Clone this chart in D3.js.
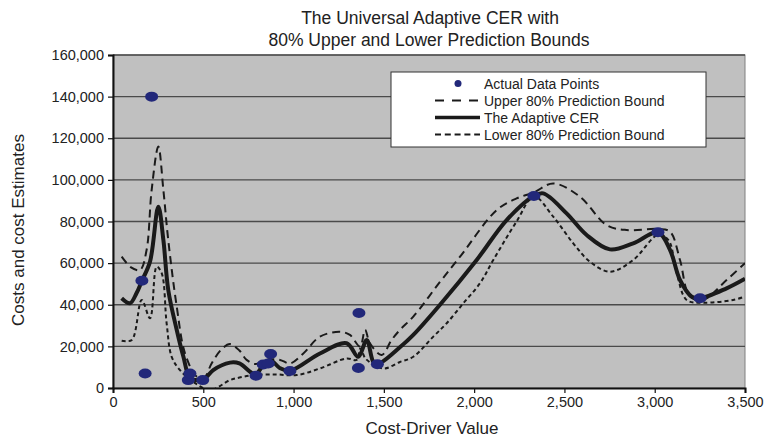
<!DOCTYPE html>
<html>
<head>
<meta charset="utf-8">
<script src="https://cdn.jsdelivr.net/npm/d3@7"></script>
<style>
  body { margin: 0; background: #fff; }
  svg { font-family: "Liberation Sans", Arial, sans-serif; }
</style>
</head>
<body>
<div id="chart"></div>
<script>
// data
var pointX = [160, 178, 214, 417, 426, 497, 792, 832, 860, 873, 980, 1359, 1362, 1464, 2331, 3018, 3251];
var pointY = [51500, 7000, 140000, 3800, 7000, 3800, 5900, 11300, 11800, 16300, 8200, 9600, 36000, 11400, 92250, 74800, 43100];

var cerX = [48, 94, 130, 160, 205, 251, 279, 306, 353, 390, 426, 482, 519, 555, 648, 700, 759, 790, 832, 870, 925, 980, 1146, 1294, 1358, 1405, 1441, 1464, 1592, 1663, 1811, 2014, 2180, 2331, 2383, 2512, 2623, 2752, 2881, 3018, 3085, 3140, 3205, 3251, 3398, 3500];
var cerY = [43100, 40700, 45500, 51500, 60700, 87100, 71100, 47100, 27900, 15000, 5000, 3800, 5400, 8600, 12200, 11800, 7800, 6500, 11000, 13500, 9500, 8300, 16600, 21500, 15000, 23100, 12600, 11400, 19800, 25500, 40000, 61500, 80700, 92250, 93500, 83900, 73500, 66600, 69500, 74800, 66300, 51900, 43900, 43100, 47900, 52500];

var upperX = [48, 100, 150, 186, 214, 251, 279, 306, 353, 399, 463, 505, 546, 600, 648, 700, 740, 790, 851, 925, 980, 1054, 1146, 1257, 1312, 1368, 1396, 1423, 1488, 1543, 1589, 1663, 1811, 1922, 2125, 2235, 2331, 2438, 2586, 2733, 2844, 3018, 3085, 3140, 3195, 3268, 3398, 3500];
var upperY = [63100, 58000, 56700, 66300, 95100, 116000, 95100, 71100, 39100, 16600, 5500, 5000, 11800, 18500, 21100, 18000, 13500, 11500, 13500, 13500, 11800, 16600, 24700, 27000, 25500, 19900, 27900, 21500, 15900, 23100, 27900, 34300, 51000, 63100, 85500, 91100, 94000, 98300, 91900, 78300, 75900, 76400, 75100, 61500, 43900, 42300, 51900, 60000];

var lowerX = [48, 104, 159, 205, 242, 270, 297, 325, 371, 445, 537, 648, 700, 777, 900, 1017, 1146, 1294, 1349, 1370, 1400, 1497, 1589, 1663, 1774, 1848, 1940, 2032, 2106, 2235, 2331, 2438, 2549, 2641, 2752, 2881, 3018, 3076, 3122, 3177, 3268, 3434, 3500];
var lowerY = [22700, 23100, 42300, 33500, 58300, 55100, 31100, 15000, 8600, 3000, -1000, 3800, 5000, 6200, 6500, 6200, 9400, 14200, 13500, 19000, 14000, 9400, 12500, 15000, 24700, 31100, 40700, 50300, 61500, 80000, 92000, 82300, 69500, 60700, 55900, 61500, 73500, 71100, 55100, 42300, 41000, 42300, 43900];

var xTicks = [0, 500, 1000, 1500, 2000, 2500, 3000, 3500];
var yTicks = [0, 20000, 40000, 60000, 80000, 100000, 120000, 140000, 160000];

var legendLabels = ["Actual Data Points", "Upper 80% Prediction Bound", "The Adaptive CER", "Lower 80% Prediction Bound"];

var W = 768, H = 440;
var plotL = 113, plotR = 745, plotT = 55, plotB = 388;

var svg = d3.select("#chart").append("svg")
  .attr("width", W).attr("height", H);

var x = d3.scaleLinear().domain([0, 3500]).range([plotL, plotR]);
var y = d3.scaleLinear().domain([0, 160000]).range([plotB, plotT]);

// plot background
svg.append("rect")
  .attr("x", plotL).attr("y", plotT)
  .attr("width", plotR - plotL).attr("height", plotB - plotT)
  .attr("fill", "#c0c0c0")
  .attr("stroke", "#808080").attr("stroke-width", 1);

// gridlines
svg.append("g").selectAll("line")
  .data(yTicks.slice(1))
  .enter().append("line")
  .attr("x1", plotL).attr("x2", plotR)
  .attr("y1", function(d) { return y(d); })
  .attr("y2", function(d) { return y(d); })
  .attr("stroke", "#4a4a4a").attr("stroke-width", 1.3);

svg.append("clipPath").attr("id", "clip")
  .append("rect")
  .attr("x", plotL).attr("y", plotT)
  .attr("width", plotR - plotL).attr("height", plotB - plotT);

var plot = svg.append("g").attr("clip-path", "url(#clip)");

function makeLine(xs, ys) {
  var pts = xs.map(function(v, i) { return [v, ys[i]]; });
  return d3.line()
    .x(function(d) { return x(d[0]); })
    .y(function(d) { return y(d[1]); })
    .curve(d3.curveCatmullRom.alpha(0.5))(pts);
}

plot.append("path")
  .attr("d", makeLine(upperX, upperY))
  .attr("fill", "none").attr("stroke", "#1a1a1a")
  .attr("stroke-width", 2).attr("stroke-dasharray", "8,5");

plot.append("path")
  .attr("d", makeLine(lowerX, lowerY))
  .attr("fill", "none").attr("stroke", "#1a1a1a")
  .attr("stroke-width", 2).attr("stroke-dasharray", "4,3");

plot.append("path")
  .attr("d", makeLine(cerX, cerY))
  .attr("fill", "none").attr("stroke", "#1a1a1a")
  .attr("stroke-width", 4).attr("stroke-linejoin", "round");

plot.selectAll("ellipse")
  .data(pointX)
  .enter().append("ellipse")
  .attr("cx", function(d) { return x(d); })
  .attr("cy", function(d, i) { return y(pointY[i]); })
  .attr("rx", 6.5).attr("ry", 5)
  .attr("fill", "#22287a");

// axes
var yAxis = svg.append("g")
  .attr("transform", "translate(" + plotL + ",0)")
  .call(d3.axisLeft(y).tickValues(yTicks).tickSize(5).tickPadding(4).tickFormat(d3.format(",")));
var xAxis = svg.append("g")
  .attr("transform", "translate(0," + plotB + ")")
  .call(d3.axisBottom(x).tickValues(xTicks).tickSize(5).tickPadding(4).tickFormat(d3.format(",")));

[yAxis, xAxis].forEach(function(a) {
  a.select(".domain").attr("stroke", "#111").attr("stroke-width", 2);
  a.selectAll(".tick line").attr("stroke", "#111").attr("stroke-width", 1.2);
  a.selectAll("text").attr("font-size", 14.5).attr("fill", "#222")
    .attr("font-family", "Liberation Sans, Arial, sans-serif");
});

// titles
svg.append("text")
  .attr("x", 430).attr("y", 24)
  .attr("text-anchor", "middle").attr("font-size", 17.5).attr("fill", "#222")
  .text("The Universal Adaptive CER with");
svg.append("text")
  .attr("x", 429).attr("y", 46)
  .attr("text-anchor", "middle").attr("font-size", 17.5).attr("fill", "#222")
  .text("80% Upper and Lower Prediction Bounds");

svg.append("text")
  .attr("x", 432).attr("y", 434)
  .attr("text-anchor", "middle").attr("font-size", 17).attr("fill", "#222")
  .text("Cost-Driver Value");

svg.append("text")
  .attr("transform", "translate(24,230) rotate(-90)")
  .attr("text-anchor", "middle").attr("font-size", 17).attr("fill", "#222")
  .text("Costs and cost Estimates");

// legend
var leg = svg.append("g");
leg.append("rect")
  .attr("x", 391).attr("y", 72)
  .attr("width", 315).attr("height", 75)
  .attr("fill", "#fff").attr("stroke", "#333").attr("stroke-width", 1);

var rowY = [83.5, 100.5, 117.5, 134.5];
leg.append("circle")
  .attr("cx", 458).attr("cy", rowY[0]).attr("r", 3.5).attr("fill", "#22287a");
leg.append("line")
  .attr("x1", 435).attr("x2", 480).attr("y1", rowY[1]).attr("y2", rowY[1])
  .attr("stroke", "#1a1a1a").attr("stroke-width", 2).attr("stroke-dasharray", "9,8");
leg.append("line")
  .attr("x1", 435).attr("x2", 480).attr("y1", rowY[2]).attr("y2", rowY[2])
  .attr("stroke", "#1a1a1a").attr("stroke-width", 3.5);
leg.append("line")
  .attr("x1", 435).attr("x2", 480).attr("y1", rowY[3]).attr("y2", rowY[3])
  .attr("stroke", "#1a1a1a").attr("stroke-width", 2).attr("stroke-dasharray", "6,3.8");

leg.selectAll("text.lab")
  .data(legendLabels)
  .enter().append("text")
  .attr("class", "lab")
  .attr("x", 484)
  .attr("y", function(d, i) { return rowY[i] + 5; })
  .attr("font-size", 14).attr("fill", "#222")
  .text(function(d) { return d; });
</script>
</body>
</html>
